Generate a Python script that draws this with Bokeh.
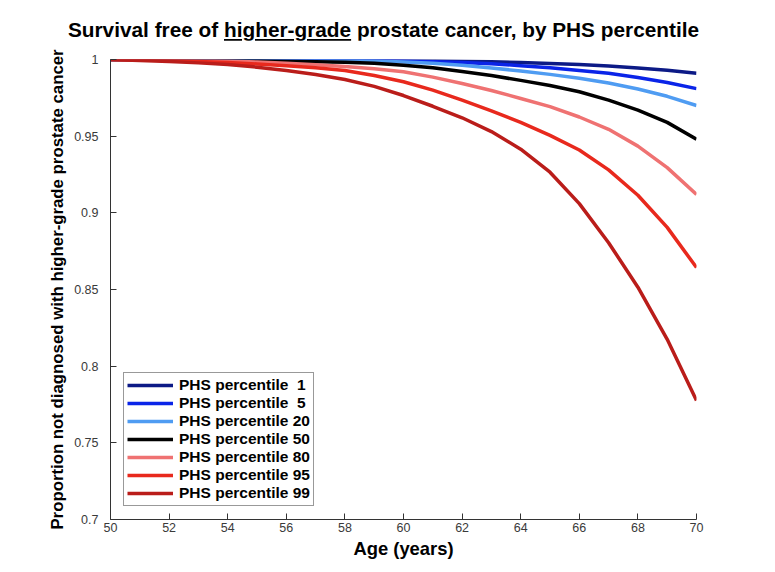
from bokeh.plotting import figure
from bokeh.models import (Div, Legend, LegendItem, FixedTicker, NumeralTickFormatter,
                          Range1d)
from bokeh.layouts import column
from bokeh.embed import file_html
from bokeh.resources import INLINE

# Age grid (years) and survival-free proportion for each PHS percentile
ages = [50, 51, 52, 53, 54, 55, 56, 57, 58, 59, 60,
        61, 62, 63, 64, 65, 66, 67, 68, 69, 70]

phs_1 = [1.0000, 1.0000, 1.0000, 1.0000, 0.9999, 0.9999, 0.9998, 0.9998, 0.9997, 0.9996, 0.9995,
         0.9992, 0.9989, 0.9985, 0.9980, 0.9974, 0.9967, 0.9958, 0.9945, 0.9930, 0.9910]
phs_5 = [1.0000, 1.0000, 1.0000, 0.9999, 0.9999, 0.9998, 0.9997, 0.9996, 0.9995, 0.9993, 0.9990,
         0.9986, 0.9980, 0.9972, 0.9960, 0.9946, 0.9928, 0.9910, 0.9882, 0.9850, 0.9810]
phs_20 = [1.0000, 1.0000, 0.9999, 0.9999, 0.9998, 0.9997, 0.9996, 0.9995, 0.9994, 0.9990, 0.9984,
          0.9975, 0.9962, 0.9945, 0.9925, 0.9903, 0.9878, 0.9847, 0.9808, 0.9760, 0.9700]
phs_50 = [1.0000, 1.0000, 0.9999, 0.9997, 0.9995, 0.9992, 0.9989, 0.9986, 0.9982, 0.9975, 0.9963,
          0.9946, 0.9922, 0.9895, 0.9864, 0.9830, 0.9790, 0.9735, 0.9670, 0.9590, 0.9480]
phs_80 = [1.0000, 0.9999, 0.9997, 0.9994, 0.9990, 0.9983, 0.9975, 0.9966, 0.9955, 0.9940, 0.9920,
          0.9885, 0.9843, 0.9798, 0.9746, 0.9693, 0.9625, 0.9545, 0.9435, 0.9295, 0.9120]
phs_95 = [1.0000, 0.9997, 0.9993, 0.9987, 0.9980, 0.9971, 0.9960, 0.9946, 0.9928, 0.9896, 0.9855,
          0.9800, 0.9735, 0.9665, 0.9590, 0.9505, 0.9410, 0.9280, 0.9115, 0.8905, 0.8643]
phs_99 = [1.0000, 0.9994, 0.9987, 0.9978, 0.9967, 0.9950, 0.9928, 0.9902, 0.9870, 0.9825, 0.9765,
          0.9695, 0.9620, 0.9530, 0.9415, 0.9265, 0.9060, 0.8805, 0.8515, 0.8175, 0.7776]

series_labels = ["PHS percentile  1", "PHS percentile  5", "PHS percentile 20",
                 "PHS percentile 50", "PHS percentile 80", "PHS percentile 95",
                 "PHS percentile 99"]
series_values = [phs_1, phs_5, phs_20, phs_50, phs_80, phs_95, phs_99]
series_colors = ["#0c1a86", "#0a24e8", "#4f9cf2", "#000000",
                 "#ef7272", "#e8291d", "#ba1d1a"]

y_ticks = [0.7, 0.75, 0.8, 0.85, 0.9, 0.95, 1.0]
x_ticks = [50, 52, 54, 56, 58, 60, 62, 64, 66, 68, 70]

FONT = "Liberation Sans"

title = Div(
    text='Survival free of <u>higher-grade</u> prostate cancer, by PHS percentile',
    width=775, height=40, margin=0,
    styles={"font-family": FONT, "font-weight": "bold", "font-size": "20.8px",
            "color": "#000000", "text-align": "center", "width": "767px",
            "padding-top": "19px", "line-height": "22px"},
)

p = figure(width=775, height=532, output_backend="svg", toolbar_location=None,
           x_range=Range1d(50, 70), y_range=Range1d(0.7, 1.0),
           min_border_left=110, min_border_right=79,
           min_border_top=19, min_border_bottom=53)
p.outline_line_color = None
p.background_fill_color = "white"
p.border_fill_color = "white"
p.grid.visible = False

items = []
for label, vals, color in zip(series_labels, series_values, series_colors):
    r = p.line(ages, vals, line_color=color, line_width=3.5, line_join="round")
    items.append(LegendItem(label=label, renderers=[r]))

for ax in (p.xaxis[0], p.yaxis[0]):
    ax.axis_line_color = "#333333"
    ax.major_tick_line_color = "#333333"
    ax.minor_tick_line_color = None
    ax.major_tick_in = 6
    ax.major_tick_out = 0
    ax.major_label_text_font = FONT
    ax.major_label_text_font_size = "12.5px"
    ax.major_label_text_color = "#3a3a3a"
    ax.axis_label_text_font = FONT
    ax.axis_label_text_font_style = "bold"
    ax.axis_label_text_color = "#000000"

p.xaxis.ticker = FixedTicker(ticks=x_ticks)
p.yaxis.ticker = FixedTicker(ticks=y_ticks)
p.yaxis.formatter = NumeralTickFormatter(format="0.[00]")
p.xaxis.axis_label = "Age (years)"
p.xaxis.axis_label_text_font_size = "18.4px"
p.xaxis.major_label_standoff = 3
p.xaxis.axis_label_standoff = 3
p.yaxis.axis_label = "Proportion not diagnosed with higher-grade prostate cancer"
p.yaxis.axis_label_text_font_size = "16.8px"
p.yaxis.major_label_standoff = 12
p.yaxis.axis_label_standoff = 4

legend = Legend(items=items, location=(13, 13))
legend.label_text_font = FONT
legend.label_text_font_style = "bold"
legend.label_text_font_size = "15.5px"
legend.label_text_color = "#000000"
legend.label_height = 18
legend.glyph_height = 18
legend.glyph_width = 46
legend.label_standoff = 6
legend.spacing = 0
legend.padding = 3
legend.margin = 0
legend.border_line_color = "#333333"
legend.border_line_width = 1
legend.background_fill_alpha = 1.0
p.add_layout(legend, "center")

layout = column(title, p, spacing=0)

with open("out.html", "w") as f:
    f.write(file_html(layout, INLINE))
